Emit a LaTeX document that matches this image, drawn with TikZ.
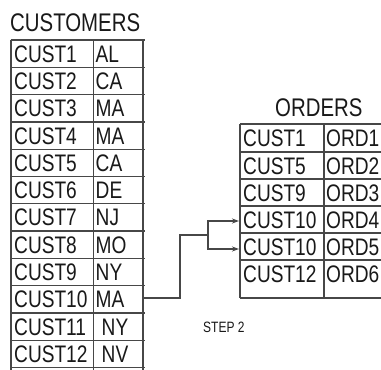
\documentclass[tikz,border=0pt]{standalone}
\usepackage{fontspec}
\setmainfont{Liberation Sans}[FakeStretch=0.8]
\usetikzlibrary{arrows.meta}
\begin{document}
\begin{tikzpicture}[x=1pt,y=-1pt,
  grid/.style={draw=black!72,line width=1.3pt},
  cell/.style={anchor=west,inner sep=0pt,text=black!90,font=\fontsize{23.9}{24}\selectfont,text height=17pt,text depth=0pt},
  title/.style={anchor=west,inner sep=0pt,text=black!90,font=\fontsize{25.5}{26}\selectfont,text height=18.5pt,text depth=0pt},
  steplabel/.style={anchor=west,inner sep=0pt,text=black!90,font=\fontsize{15}{16}\selectfont},
  conn/.style={draw=black!72,line width=1.2pt},
  tip/.style={-{Stealth[length=7pt,width=5pt]}}]
\useasboundingbox (0,0) rectangle (381,370);
\clip (0,0) rectangle (381,370);
\fill[white] (0,0) rectangle (381,370);
% CUSTOMERS table
\node[title] (ctitle) at (10,22.5) {CUSTOMERS};
\foreach \i in {0,...,12} { \draw[grid] (10.5,{40+\i*27.3}) -- (144.5,{40+\i*27.3}); }
\draw[grid] (11,40) -- (11,375);
\draw[grid] (93.5,40) -- (93.5,375);
\draw[grid] (143,40) -- (143,375);
\foreach \i/\s in {1/AL,2/CA,3/MA,4/MA,5/CA,6/DE,7/NJ,8/MO,9/NY,10/MA} {
  \node[cell] (c\i) at (14,{40+(\i-0.5)*27.3}) {CUST\i};
  \node[cell] (s\i) at (95.5,{40+(\i-0.5)*27.3}) {\s};
}
\foreach \i/\s in {11/NY,12/NV} {
  \node[cell] (c\i) at (14,{40+(\i-0.5)*27.3}) {CUST\i};
  \node[cell] (s\i) at (101.5,{40+(\i-0.5)*27.3}) {\s};
}
% ORDERS table
\node[title] (otitle) at (275,107) {ORDERS};
\foreach \y in {124,152,179,206,233,260,298} { \draw[grid] (240,\y) -- (390,\y); }
\draw[grid] (240,124) -- (240,298);
\draw[grid] (324,124) -- (324,298);
\foreach \i/\c/\y in {1/CUST1/138,2/CUST5/165.5,3/CUST9/192.5,4/CUST10/219.5,5/CUST10/246.5,6/CUST12/273.5} {
  \node[cell] (oc\i) at (243,\y) {\c};
  \node[cell] (od\i) at (326,\y) {ORD\i};
}
% connector
\coordinate (c10out) at (143,298);
\coordinate (split) at (208,235);
\coordinate (o4in) at (239,221);
\coordinate (o5in) at (239,249);
\draw[conn] (c10out) -- ++(37,0) |- (split);
\draw[conn,tip] (split) |- (o4in);
\draw[conn,tip] (split) |- (o5in);
\node[steplabel] (step) at (203,327) {STEP 2};
\end{tikzpicture}
\end{document}
